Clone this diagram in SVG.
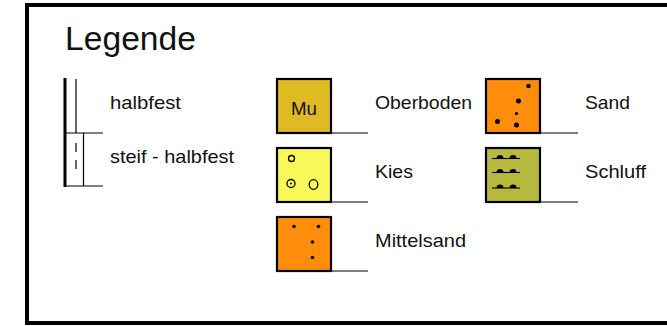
<svg xmlns="http://www.w3.org/2000/svg" width="667" height="326" viewBox="0 0 667 326">
<style>
text{font-family:"Liberation Sans",Arial,sans-serif;fill:#111}
.lbl{font-size:18.5px}
.box{stroke:#000;stroke-width:2.2}
.ul{stroke:#000;stroke-width:1.2;fill:none}
.ln{stroke:#000;fill:none}
.dot{fill:#000}
.ring{fill:none;stroke:#000;stroke-width:1.3}
</style>
<rect x="0" y="0" width="667" height="326" fill="#fff"/>
<rect x="27" y="5" width="700" height="318" fill="none" stroke="#000" stroke-width="4"/>
<text x="65" y="49.5" style="font-size:33px" textLength="131" lengthAdjust="spacingAndGlyphs">Legende</text>

<g id="konsistenz">
<line class="ln" x1="65" y1="78" x2="65" y2="187" stroke-width="3"/>
<line class="ln" x1="76" y1="79" x2="76" y2="133" stroke-width="1.2"/>
<line class="ln" x1="65" y1="133" x2="103" y2="133" stroke-width="1.2"/>
<line class="ln" x1="65" y1="186" x2="103" y2="186" stroke-width="1.2"/>
<line class="ln" x1="83.5" y1="133" x2="83.5" y2="186" stroke-width="1.2"/>
<line class="ln" x1="76" y1="143" x2="76" y2="152" stroke-width="1.2"/>
<line class="ln" x1="76" y1="160" x2="76" y2="169" stroke-width="1.2"/>
<text class="lbl" x="110" y="108.5" textLength="71" lengthAdjust="spacingAndGlyphs">halbfest</text>
<text class="lbl" x="110" y="162.5" textLength="124" lengthAdjust="spacingAndGlyphs">steif - halbfest</text>
</g>

<g id="oberboden">
<rect class="box" x="277" y="79" width="54" height="54" fill="#E0BA22"/>
<line class="ul" x1="331" y1="133" x2="368" y2="133"/>
<text x="291" y="114.5" style="font-size:18px" textLength="26" lengthAdjust="spacingAndGlyphs">Mu</text>
<text class="lbl" x="375" y="109" textLength="97" lengthAdjust="spacingAndGlyphs">Oberboden</text>
</g>

<g id="kies">
<rect class="box" x="277" y="148" width="54" height="54" fill="#F8F85A"/>
<line class="ul" x1="331" y1="202" x2="368" y2="202"/>
<circle class="ring" cx="291.5" cy="158.5" r="3"/>
<circle class="ring" cx="291" cy="183.5" r="4"/>
<circle class="dot" cx="291" cy="183.5" r="1"/>
<ellipse class="ring" cx="313.5" cy="184.5" rx="4.3" ry="4.8"/>
<text class="lbl" x="375" y="178" textLength="38" lengthAdjust="spacingAndGlyphs">Kies</text>
</g>

<g id="mittelsand">
<rect class="box" x="277" y="217" width="54" height="54" fill="#FF8C0A"/>
<line class="ul" x1="331" y1="271" x2="368" y2="271"/>
<circle class="dot" cx="294" cy="226.5" r="1.8"/>
<circle class="dot" cx="318.5" cy="226.5" r="1.8"/>
<circle class="dot" cx="312.5" cy="242" r="1.8"/>
<circle class="dot" cx="312.5" cy="257.5" r="1.8"/>
<text class="lbl" x="375" y="247" textLength="91" lengthAdjust="spacingAndGlyphs">Mittelsand</text>
</g>

<g id="sand">
<rect class="box" x="486" y="79" width="54" height="54" fill="#FF8C0A"/>
<line class="ul" x1="540" y1="133" x2="578" y2="133"/>
<circle class="dot" cx="528.5" cy="86" r="2.3"/>
<circle class="dot" cx="518.5" cy="101" r="2.5"/>
<circle class="dot" cx="516.5" cy="113.5" r="1.6"/>
<circle class="dot" cx="497.5" cy="121.5" r="2.5"/>
<circle class="dot" cx="516.5" cy="125" r="2.5"/>
<text class="lbl" x="585" y="109" textLength="45" lengthAdjust="spacingAndGlyphs">Sand</text>
</g>

<g id="schluff">
<rect class="box" x="486" y="148" width="54" height="54" fill="#B6B93E"/>
<line class="ul" x1="540" y1="202" x2="578" y2="202"/>
<g class="dot">
<path d="M496.5 158.5a3.5 3.5 0 0 1 7 0z M509.5 158.5a3.5 3.5 0 0 1 7 0z"/>
<path d="M496.5 172.5a3.5 3.5 0 0 1 7 0z M509.5 172.5a3.5 3.5 0 0 1 7 0z"/>
<path d="M496.5 188a3.5 3.5 0 0 1 7 0z M509.5 188a3.5 3.5 0 0 1 7 0z"/>
</g>
<line class="ln" x1="492" y1="158.5" x2="520" y2="158.5" stroke-width="1.1"/>
<line class="ln" x1="492" y1="172.5" x2="520" y2="172.5" stroke-width="1.1"/>
<line class="ln" x1="492" y1="188" x2="520" y2="188" stroke-width="1.1"/>
<text class="lbl" x="585" y="178" textLength="61" lengthAdjust="spacingAndGlyphs">Schluff</text>
</g>
</svg>
